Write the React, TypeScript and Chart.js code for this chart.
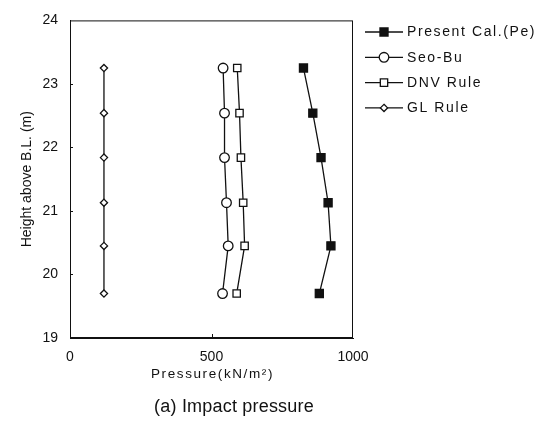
import { useEffect, useRef } from "react";
import { Chart, registerables } from "chart.js";

Chart.register(...registerables);

const heights = [23.25, 22.54, 21.84, 21.13, 20.45, 19.7];
const presentCal = [825, 858, 887, 912, 922, 881];
const seoBu = [541, 546, 546, 553, 559, 539];
const dnvRule = [591, 599, 604, 612, 617, 589];
const glRule = [120, 120, 120, 120, 120, 120];
const seriesNames = ["Present Cal.(Pe)", "Seo-Bu", "DNV Rule", "GL Rule"];
const xMin = 0;
const xMax = 1000;
const xStep = 500;
const yMin = 19;
const yMax = 24;
const yStep = 1;
const chartTitle = "(a) Impact pressure";
const xTitle = "Pressure(kN/m²)";
const yTitle = "Height above B.L. (m)";

const FONT = "'Liberation Sans', Arial, sans-serif";
const INK = "#111";

type Marker = { style: string; radius: number; fill: string };
const markers: Marker[] = [
  { style: "rect", radius: 5.7, fill: INK },
  { style: "circle", radius: 4.8, fill: "#fff" },
  { style: "rect", radius: 5.2, fill: "#fff" },
  { style: "rectRot", radius: 3.6, fill: "#fff" },
];

function drawMarker(ctx: CanvasRenderingContext2D, m: Marker, x: number, y: number) {
  ctx.save();
  ctx.beginPath();
  if (m.style === "rect") {
    const s = Math.SQRT1_2 * m.radius;
    ctx.rect(x - s, y - s, 2 * s, 2 * s);
  } else if (m.style === "circle") {
    ctx.arc(x, y, m.radius, 0, Math.PI * 2);
  } else {
    ctx.moveTo(x, y - m.radius);
    ctx.lineTo(x + m.radius, y);
    ctx.lineTo(x, y + m.radius);
    ctx.lineTo(x - m.radius, y);
    ctx.closePath();
  }
  ctx.fillStyle = m.fill;
  ctx.fill();
  ctx.lineWidth = 1.3;
  ctx.strokeStyle = INK;
  ctx.stroke();
  ctx.restore();
}

const framePlugin = {
  id: "frameAndLegend",
  afterDraw(chart: any) {
    const ctx: CanvasRenderingContext2D = chart.ctx;
    const { left, right, top, bottom } = chart.chartArea;
    const xs = chart.scales.x;
    const ys = chart.scales.y;
    ctx.save();
    ctx.strokeStyle = INK;
    ctx.lineWidth = 1;
    ctx.strokeRect(left + 0.5, top + 0.5, right - left - 1, bottom - top - 1);
    // inner ticks
    ctx.beginPath();
    for (let v = yMin + yStep; v < yMax; v += yStep) {
      const py = Math.round(ys.getPixelForValue(v)) + 0.5;
      ctx.moveTo(left, py);
      ctx.lineTo(left + 3, py);
    }
    for (let v = xMin + xStep; v < xMax; v += xStep) {
      const px = Math.round(xs.getPixelForValue(v)) + 0.5;
      ctx.moveTo(px, bottom);
      ctx.lineTo(px, bottom - 4);
    }
    ctx.stroke();

    // x-axis title
    ctx.fillStyle = INK;
    ctx.textAlign = "center";
    ctx.textBaseline = "middle";
    ctx.font = `13.5px ${FONT}`;
    (ctx as any).letterSpacing = "1.6px";
    ctx.fillText(xTitle, (left + right) / 2 + 1, 374);

    // chart title
    ctx.font = `18px ${FONT}`;
    (ctx as any).letterSpacing = "0.2px";
    ctx.fillText(chartTitle, 234, 407);

    // legend
    const lx0 = 365;
    const lx1 = 403;
    const mx = 384;
    const tx = 407;
    ctx.font = `14px ${FONT}`;
    (ctx as any).letterSpacing = "1.6px";
    ctx.textAlign = "left";
    seriesNames.forEach((name, i) => {
      const y = 32 + i * 25.3;
      ctx.beginPath();
      ctx.lineWidth = 1.3;
      ctx.moveTo(lx0, y);
      ctx.lineTo(lx1, y);
      ctx.stroke();
      drawMarker(ctx, markers[i], mx, y);
      ctx.fillStyle = INK;
      ctx.fillText(name, tx, y + 0.5);
    });
    ctx.restore();
  },
};

export default function App() {
  const canvasRef = useRef<HTMLCanvasElement | null>(null);

  useEffect(() => {
    document.body.style.margin = "0";
    const canvas = canvasRef.current;
    if (!canvas) return;
    const series = [presentCal, seoBu, dnvRule, glRule];
    const datasets = series.map((vals, i) => ({
      label: seriesNames[i],
      data: vals.map((v, j) => ({ x: v, y: heights[j] })),
      showLine: true,
      borderColor: INK,
      borderWidth: 1.3,
      pointStyle: markers[i].style,
      pointRadius: markers[i].radius,
      pointBackgroundColor: markers[i].fill,
      pointBorderColor: INK,
      pointBorderWidth: 1.3,
    }));

    const chart = new Chart(canvas, {
      type: "scatter",
      data: { datasets },
      plugins: [framePlugin],
      options: {
        responsive: false,
        animation: false,
        layout: { padding: { top: 13, right: 190, left: 0, bottom: 0 } },
        plugins: {
          legend: { display: false },
          tooltip: { enabled: false },
          title: { display: false },
        },
        scales: {
          x: {
            type: "linear",
            min: xMin,
            max: xMax,
            afterFit: (s: any) => {
              s.height = 96;
            },
            ticks: {
              stepSize: xStep,
              color: INK,
              padding: 11,
              font: { family: FONT, size: 14 },
              maxRotation: 0,
              callback: (v: any) => String(v),
            },
            grid: { display: false, drawTicks: false },
            border: { display: true, color: INK },
            title: { display: false },
          },
          y: {
            type: "linear",
            min: yMin,
            max: yMax,
            afterFit: (s: any) => {
              s.width = 70;
            },
            ticks: {
              stepSize: yStep,
              color: INK,
              padding: 12,
              font: { family: FONT, size: 14 },
              callback: (v: any) => String(v),
            },
            grid: { display: false, drawTicks: false },
            border: { display: true, color: INK },
            title: {
              display: true,
              text: yTitle,
              color: INK,
              font: { family: FONT, size: 14 },
              padding: { top: 18.6, bottom: 0 },
            },
          },
        },
      } as any,
    });
    return () => chart.destroy();
  }, []);

  return (
    <div style={{ width: 543, height: 434, background: "#fff" }}>
      <canvas ref={canvasRef} width={543} height={434} />
    </div>
  );
}
